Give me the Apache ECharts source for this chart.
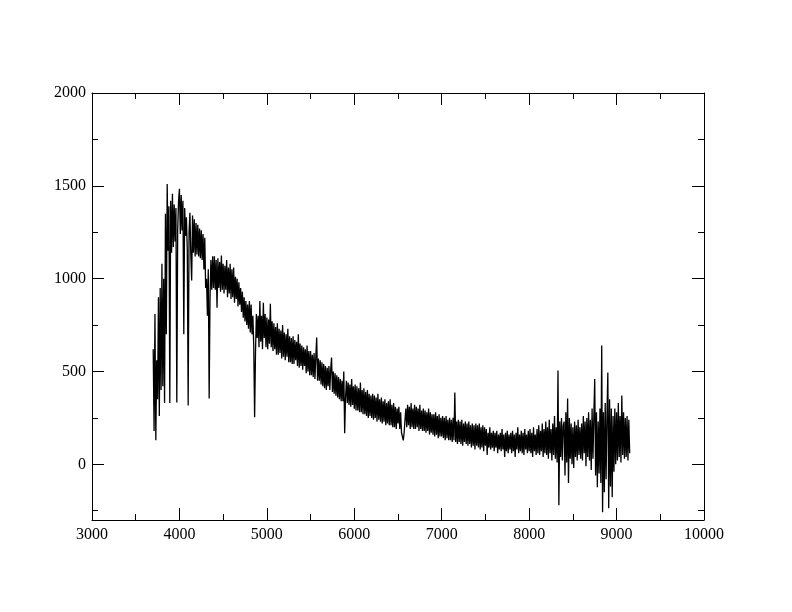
<!DOCTYPE html>
<html>
<head>
<meta charset="utf-8">
<script src="https://cdn.jsdelivr.net/npm/echarts@6/dist/echarts.min.js"></script>
<style>html,body{margin:0;padding:0;background:#fff}#c{width:792px;height:612px}</style>
</head>
<body>
<div id="c"></div>
<script>
// Wavelength sampling grid (Angstrom)
const waveStart = 3700;
const waveStep = 10;
// Flux values, one row per 100 Angstrom
const flux = [
  620,180,810,130,560,350,900,260,950,400,          // 3700
  1080,420,1000,330,1350,700,1510,1150,1390,330,    // 3800
  1420,1140,1457,1170,1400,1200,1380,333,1260,1420, // 3900
  1484,1240,1450,1260,1420,700,1380,1230,1330,1150, // 4000
  317,1250,1355,1130,990,1340,1140,1320,1120,1300,  // 4100
  1130,1290,1120,1270,1110,1260,1100,1240,1050,1220, // 4200
  950,1000,800,1050,355,900,1100,940,1120,950,      // 4300
  1120,940,1100,844,1110,950,1090,930,1124,940,     // 4400
  1080,920,1070,940,1100,900,1060,920,1080,890,     // 4500
  1050,900,1060,870,1010,890,1000,850,980,860,      // 4600
  950,820,930,790,900,770,880,750,860,730,          // 4700
  880,710,860,700,800,640,253,600,810,680,          // 4800
  800,630,880,660,800,620,870,680,810,630,          // 4900
  790,620,780,650,865,630,770,610,760,620,          // 5000
  740,590,760,590,730,600,720,570,750,580,          // 5100
  710,560,700,580,730,550,690,550,680,540,          // 5200
  690,540,670,560,660,530,700,520,650,530,          // 5300
  640,510,630,530,620,490,640,500,610,480,          // 5400
  610,480,590,470,600,460,580,683,450,570,          // 5500
  450,560,430,550,420,540,410,530,400,520,          // 5600
  420,530,400,510,575,390,500,380,490,370,          // 5700
  480,360,470,350,460,340,450,340,500,167,          // 5800
  360,450,330,440,320,430,310,460,320,420,          // 5900
  300,430,290,420,290,410,280,440,280,400,          // 6000
  270,410,270,390,260,400,250,380,260,370,          // 6100
  250,380,240,370,250,360,230,380,240,350,          // 6200
  230,360,220,340,230,350,210,330,220,340,          // 6300
  210,350,210,320,200,330,200,310,190,300,          // 6400
  220,310,190,280,170,150,129,170,240,300,          // 6500
  200,320,210,310,190,330,200,300,190,320,          // 6600
  190,310,200,300,180,320,190,290,180,300,          // 6700
  180,290,170,280,180,300,160,280,170,270,          // 6800
  160,270,150,280,160,260,140,270,150,250,          // 6900
  150,260,140,250,130,260,140,240,130,250,          // 7000
  130,240,120,250,130,387,120,230,110,240,          // 7100
  120,230,110,240,100,220,120,230,110,220,          // 7200
  100,230,110,210,90,220,100,210,80,220,            // 7300
  100,210,90,220,80,200,90,210,70,200,              // 7400
  100,190,50,170,90,200,80,170,90,180,              // 7500
  70,170,90,180,60,160,80,170,70,190,               // 7600
  80,160,40,170,70,180,60,160,80,170,               // 7700
  60,180,70,160,40,170,80,200,60,160,               // 7800
  70,180,60,170,50,190,80,160,60,180,               // 7900
  70,190,60,170,40,200,70,160,50,190,               // 8000
  60,210,50,180,70,220,40,190,60,230,               // 8100
  50,200,30,240,60,190,20,220,50,260,               // 8200
  30,200,10,505,-220,230,40,250,20,210,             // 8300
  230,-60,280,10,355,-100,250,30,220,0,             // 8400
  200,-20,230,40,210,20,240,50,200,30,              // 8500
  220,20,260,60,230,-10,250,40,280,20,              // 8600
  240,-30,300,30,260,460,-60,280,-124,230,          // 8700
  -50,300,-100,640,-258,280,-150,330,-80,260,       // 8800
  495,-237,350,-120,300,-177,260,-40,300,0,         // 8900
  280,20,330,40,260,10,371,50,280,30,               // 9000
  250,40,260,20,240,60                              // 9100
];
// Axis tick values
const xMin = 3000, xMax = 10000, xInterval = 1000;
const yMin = -300, yMax = 2000;
const yMajorTicks = [0, 500, 1000, 1500, 2000];
const yMinorTicks = [-250, 250, 750, 1250, 1750];

const points = flux.map((v, i) => [waveStart + i * waveStep, v]);

const font = { fontFamily: "'Liberation Serif', 'Times New Roman', 'DejaVu Serif', serif", fontSize: 16, color: '#000' };
const lineStyle = { color: '#000', width: 1 };
const plain = v => String(v);

function xAx(pos, labels) {
  return {
    type: 'value', position: pos, min: xMin, max: xMax, interval: xInterval,
    axisLine: { show: true, onZero: false, lineStyle },
    axisTick: { show: true, inside: true, length: 12, lineStyle },
    minorTick: { show: true, splitNumber: 2, length: 6, lineStyle },
    axisLabel: Object.assign({ show: labels, margin: 7, formatter: plain }, font),
    splitLine: { show: false }, minorSplitLine: { show: false }
  };
}
function yAx(pos, ticks, len, labels, line) {
  return {
    type: 'value', position: pos, min: yMin, max: yMax,
    axisLine: { show: line, onZero: false, lineStyle },
    axisTick: { show: true, inside: true, length: len, lineStyle, customValues: ticks },
    axisLabel: Object.assign({ show: labels, margin: 6, customValues: ticks, formatter: plain }, font),
    splitLine: { show: false }
  };
}

const chart = echarts.init(document.getElementById('c'), null, { renderer: 'canvas' });
chart.setOption({
  animation: false,
  backgroundColor: '#fff',
  grid: { left: 92, right: 88, top: 93, bottom: 92, containLabel: false },
  xAxis: [xAx('bottom', true), xAx('top', false)],
  yAxis: [
    yAx('left', yMajorTicks, 12, true, true),
    yAx('right', yMajorTicks, 12, false, true),
    yAx('left', yMinorTicks, 6, false, false),
    yAx('right', yMinorTicks, 6, false, false)
  ],
  series: [{
    type: 'line', data: points, xAxisIndex: 0, yAxisIndex: 0,
    showSymbol: false, symbol: 'none', lineStyle: { color: '#000', width: 1.3 },
    clip: true
  }]
});
</script>
</body>
</html>
